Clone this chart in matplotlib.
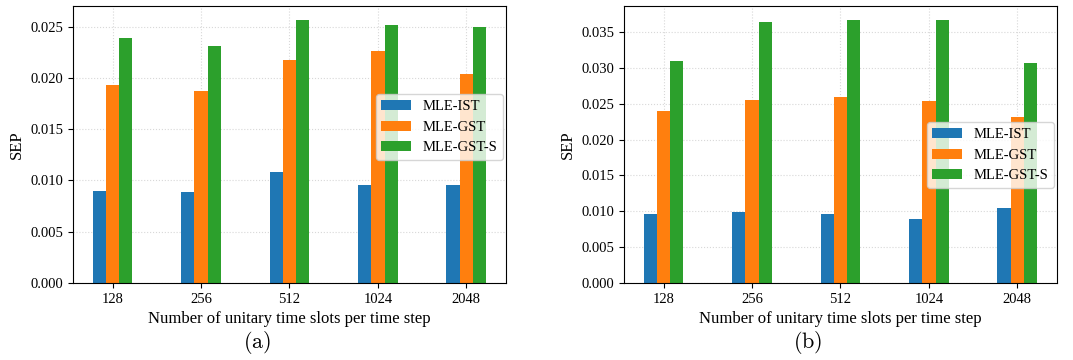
import numpy as np
import matplotlib
matplotlib.use("Agg")
import matplotlib.pyplot as plt

plt.rcParams.update({
    "font.family": "serif",
    "font.serif": ["Liberation Serif", "DejaVu Serif"],
    "mathtext.fontset": "cm",
    "font.size": 10,
    "xtick.labelsize": 10.5,
    "ytick.labelsize": 10.5,
    "legend.fontsize": 10.5,
    "axes.labelsize": 12,
    "axes.axisbelow": True,
})

slots = ["128", "256", "512", "1024", "2048"]
methods = ["MLE-IST", "MLE-GST", "MLE-GST-S"]
colors = ["#1f77b4", "#ff7f0e", "#2ca02c"]

# (a)
sep_a_ist = [0.00895, 0.00885, 0.01081, 0.00954, 0.00954]
sep_a_gst = [0.01930, 0.01872, 0.02174, 0.02262, 0.02038]
sep_a_gsts = [0.02389, 0.02311, 0.02565, 0.02516, 0.02497]

# (b)
sep_b_ist = [0.00959, 0.00987, 0.00959, 0.00889, 0.01043]
sep_b_gst = [0.02397, 0.02551, 0.02592, 0.02537, 0.02313]
sep_b_gsts = [0.03095, 0.03640, 0.03668, 0.03668, 0.03067]

fig = plt.figure(figsize=(10.73, 3.6), dpi=100)
ax_a = fig.add_axes([0.068, 0.214, 0.4035, 0.769])
ax_b = fig.add_axes([0.5815, 0.214, 0.4035, 0.769])


def draw(ax, series, ymax, yticks, legend_y):
    x = np.arange(len(slots))
    w = 0.15
    for i, (vals, name) in enumerate(zip(series, methods)):
        ax.bar(x + (i - 1) * w, vals, w, color=colors[i], label=name)
    ax.set_xticks(x)
    ax.set_xticklabels(slots)
    ax.set_ylim(0, ymax)
    ax.set_yticks(yticks)
    ax.set_yticklabels([f"{t:.3f}" for t in yticks])
    ax.grid(True, linestyle=":", color="#d8d8d8", linewidth=0.8)
    ax.set_xlabel("Number of unitary time slots per time step")
    ax.set_ylabel("SEP")
    ax.legend(loc="upper right", bbox_to_anchor=(1.0, legend_y),
              borderaxespad=0.2)


draw(ax_a, [sep_a_ist, sep_a_gst, sep_a_gsts], 0.0270,
     np.arange(0, 0.0251, 0.005), 0.692)
draw(ax_b, [sep_b_ist, sep_b_gst, sep_b_gsts], 0.0386,
     np.arange(0, 0.0351, 0.005), 0.591)

fig.text(0.240, 1 - 342 / 360, r"$\mathrm{(a)}$", ha="center", va="center", fontsize=16)
fig.text(0.753, 1 - 342 / 360, r"$\mathrm{(b)}$", ha="center", va="center", fontsize=16)

fig.savefig("out.png", dpi=100)
